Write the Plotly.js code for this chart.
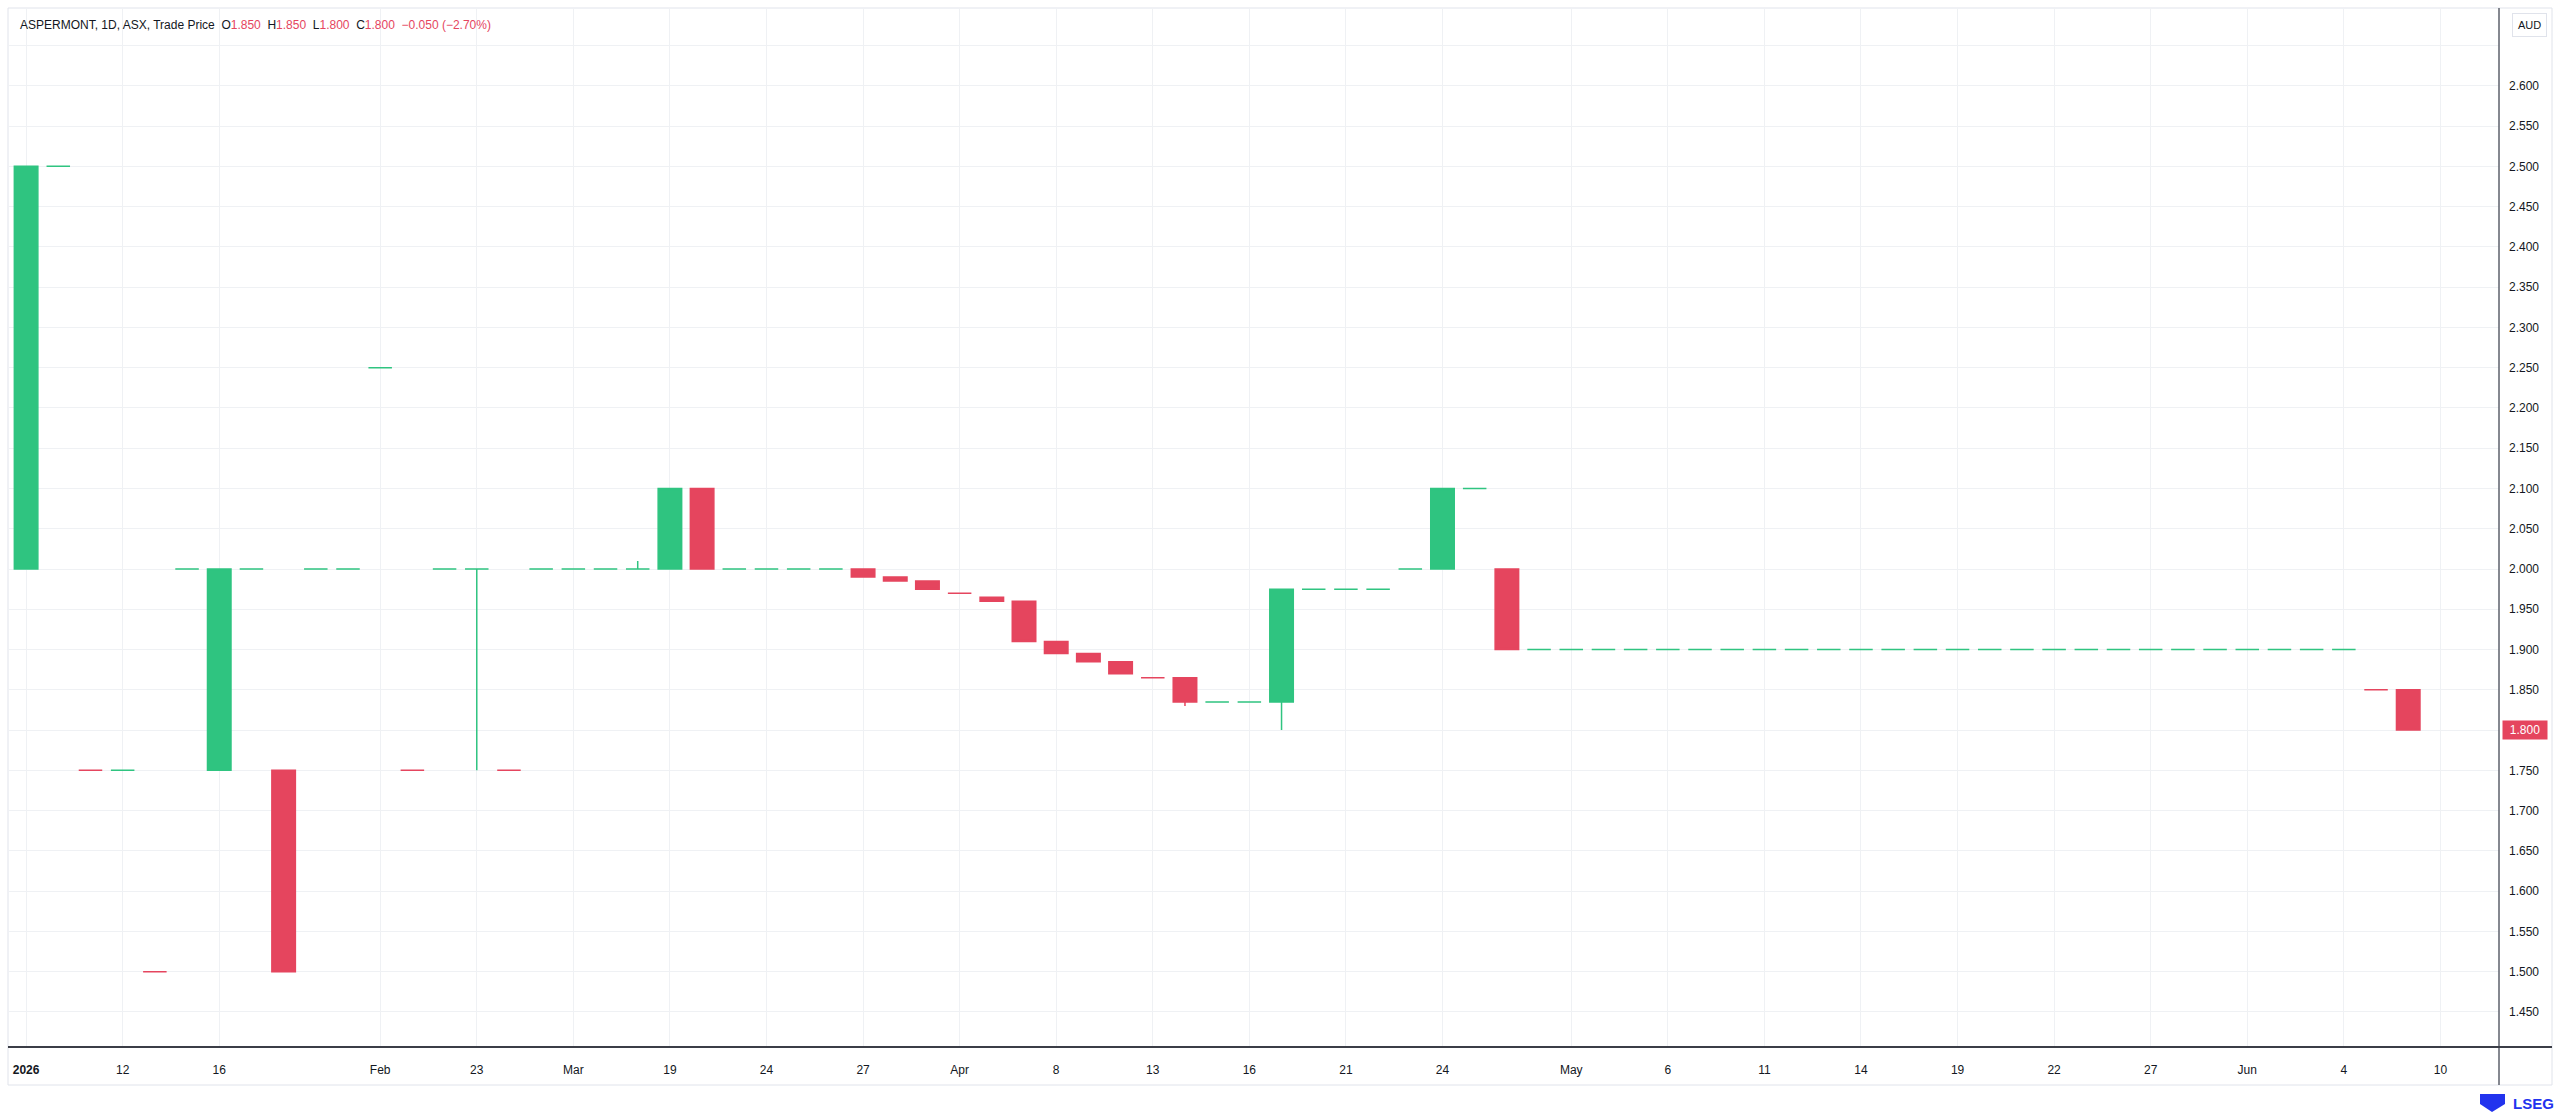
<!DOCTYPE html>
<html>
<head>
<meta charset="utf-8">
<script src="https://cdn.plot.ly/plotly-3.0.1.min.js"></script>
<style>
html,body{margin:0;padding:0;background:#ffffff;overflow:hidden}
#chart{width:2560px;height:1115px}
</style>
</head>
<body>
<div id="chart"></div>
<script>
// ---- data (ASPERMONT, 1D, ASX) : one entry per traded day ----
const openP = [2.0, 2.5, 1.75, 1.75, 1.5, 2.0, 1.75, 2.0, 1.75, 2.0,
  2.0, 2.25, 1.75, 2.0, 2.0, 1.75, 2.0, 2.0, 2.0, 2.0,
  2.0, 2.1, 2.0, 2.0, 2.0, 2.0, 2.0, 1.99, 1.985, 1.97,
  1.965, 1.96, 1.91, 1.895, 1.885, 1.865, 1.865, 1.835, 1.835, 1.835,
  1.975, 1.975, 1.975, 2.0, 2.0, 2.1, 2.0, 1.9, 1.9, 1.9,
  1.9, 1.9, 1.9, 1.9, 1.9, 1.9, 1.9, 1.9, 1.9, 1.9,
  1.9, 1.9, 1.9, 1.9, 1.9, 1.9, 1.9, 1.9, 1.9, 1.9,
  1.9, 1.9, 1.9, 1.85, 1.85];
const highP = [2.5, 2.5, 1.75, 1.75, 1.5, 2.0, 2.0, 2.0, 1.75, 2.0,
  2.0, 2.25, 1.75, 2.0, 2.0, 1.75, 2.0, 2.0, 2.0, 2.01,
  2.1, 2.1, 2.0, 2.0, 2.0, 2.0, 2.0, 1.99, 1.985, 1.97,
  1.965, 1.96, 1.91, 1.895, 1.885, 1.865, 1.865, 1.835, 1.835, 1.975,
  1.975, 1.975, 1.975, 2.0, 2.1, 2.1, 2.0, 1.9, 1.9, 1.9,
  1.9, 1.9, 1.9, 1.9, 1.9, 1.9, 1.9, 1.9, 1.9, 1.9,
  1.9, 1.9, 1.9, 1.9, 1.9, 1.9, 1.9, 1.9, 1.9, 1.9,
  1.9, 1.9, 1.9, 1.85, 1.85];
const lowP = [2.0, 2.5, 1.75, 1.75, 1.5, 2.0, 1.75, 2.0, 1.5, 2.0,
  2.0, 2.25, 1.75, 2.0, 1.75, 1.75, 2.0, 2.0, 2.0, 2.0,
  2.0, 2.0, 2.0, 2.0, 2.0, 2.0, 1.99, 1.985, 1.975, 1.97,
  1.96, 1.91, 1.895, 1.885, 1.87, 1.865, 1.83, 1.835, 1.835, 1.80,
  1.975, 1.975, 1.975, 2.0, 2.0, 2.1, 1.9, 1.9, 1.9, 1.9,
  1.9, 1.9, 1.9, 1.9, 1.9, 1.9, 1.9, 1.9, 1.9, 1.9,
  1.9, 1.9, 1.9, 1.9, 1.9, 1.9, 1.9, 1.9, 1.9, 1.9,
  1.9, 1.9, 1.9, 1.85, 1.80];
const closeP = [2.5, 2.5, 1.75, 1.75, 1.5, 2.0, 2.0, 2.0, 1.5, 2.0,
  2.0, 2.25, 1.75, 2.0, 2.0, 1.75, 2.0, 2.0, 2.0, 2.0,
  2.1, 2.0, 2.0, 2.0, 2.0, 2.0, 1.99, 1.985, 1.975, 1.97,
  1.96, 1.91, 1.895, 1.885, 1.87, 1.865, 1.835, 1.835, 1.835, 1.975,
  1.975, 1.975, 1.975, 2.0, 2.1, 2.1, 1.9, 1.9, 1.9, 1.9,
  1.9, 1.9, 1.9, 1.9, 1.9, 1.9, 1.9, 1.9, 1.9, 1.9,
  1.9, 1.9, 1.9, 1.9, 1.9, 1.9, 1.9, 1.9, 1.9, 1.9,
  1.9, 1.9, 1.9, 1.85, 1.80];

// time-scale labels (bar slot where each label sits) and their texts
const xTickPos = [0, 3, 6, 11, 14, 17, 20, 23, 26, 29, 32, 35, 38, 41, 44, 48, 51, 54, 57, 60, 63, 66, 69, 72, 75];
const xTickLabels = ['<b>2026</b>', '12', '16', 'Feb', '23', 'Mar', '19', '24', '27', 'Apr', '8', '13', '16',
  '21', '24', 'May', '6', '11', '14', '19', '22', '27', 'Jun', '4', '10'];

// price-scale labels
const yTickVals = [1.45, 1.50, 1.55, 1.60, 1.65, 1.70, 1.75, 1.80, 1.85, 1.90, 1.95, 2.00,
  2.05, 2.10, 2.15, 2.20, 2.25, 2.30, 2.35, 2.40, 2.45, 2.50, 2.55, 2.60];
const yTickLabels = ['1.450', '1.500', '1.550', '1.600', '1.650', '1.700', '1.750', '1.800', '1.850', '1.900',
  '1.950', '2.000', '2.050', '2.100', '2.150', '2.200', '2.250', '2.300', '2.350', '2.400', '2.450', '2.500',
  '2.550', '2.600'];

// ---- styling ----
const UP = '#2fc480';
const DOWN = '#e5455e';
const GRID = '#eff1f4';
const TXT = '#131722';
const FONT = 'Liberation Sans, Arial, sans-serif';

// split bars into up/down sets (flat bars coloured against previous close)
const up = {x: [], o: [], h: [], l: [], c: []};
const dn = {x: [], o: [], h: [], l: [], c: []};
for (let i = 0; i < closeP.length; i++) {
  const o = openP[i], c = closeP[i];
  const prev = i > 0 ? closeP[i - 1] : o;
  const isUp = c > o || (c === o && c >= prev);
  const t = isUp ? up : dn;
  t.x.push(i); t.o.push(o); t.h.push(highP[i]); t.l.push(lowP[i]); t.c.push(c);
}

function candle(set, col) {
  return {
    type: 'candlestick',
    x: set.x, open: set.o, high: set.h, low: set.l, close: set.c,
    line: {width: 1.5},
    increasing: {line: {color: col, width: 1.5}, fillcolor: col},
    decreasing: {line: {color: col, width: 1.5}, fillcolor: col},
    whiskerwidth: 0,
    hoverinfo: 'skip',
    showlegend: false
  };
}

// pixel helpers for layout decorations
const PL = 9, PR = 2499, PT = 8, PB = 1047;
const PX = px => (px - PL) / (PR - PL);
const PY = py => (PB - py) / (PB - PT);

const last = closeP.length - 1;
const f3 = v => v.toFixed(3);
const chg = closeP[last] - closeP[last - 1];
const pct = chg / closeP[last - 1] * 100;
const sgn = chg < 0 ? '\u2212' : '+';
const red = s => '<span style="color:' + (chg < 0 ? DOWN : UP) + '">' + s + '</span>';
const sp = '\u00a0\u00a0';
const header = 'ASPERMONT, 1D, ASX, Trade Price' + sp +
  'O' + red(f3(openP[last])) + sp +
  'H' + red(f3(highP[last])) + sp +
  'L' + red(f3(lowP[last])) + sp +
  'C' + red(f3(closeP[last])) + sp +
  red(sgn + f3(Math.abs(chg)) + ' (' + sgn + Math.abs(pct).toFixed(2) + '%)');

const layout = {
  width: 2560, height: 1115, autosize: false,
  paper_bgcolor: '#ffffff', plot_bgcolor: '#ffffff',
  font: {family: FONT, size: 12, color: TXT},
  margin: {l: PL, r: 2560 - PR, t: PT, b: 1115 - PB, pad: 0},
  showlegend: false,
  boxmode: 'overlay', boxgap: 0.27, boxgroupgap: 0,
  xaxis: {
    type: 'linear',
    range: [-0.531, 76.82],
    rangeslider: {visible: false},
    tickmode: 'array', tickvals: xTickPos, ticktext: xTickLabels,
    showgrid: true, gridcolor: GRID, gridwidth: 1,
    zeroline: false, showline: false, ticks: '',
    tickfont: {family: FONT, size: 12, color: TXT},
    ticklabelstandoff: 14,
    fixedrange: true
  },
  yaxis: {
    side: 'right',
    range: [1.4065, 2.6966],
    tickmode: 'array', tickvals: yTickVals, ticktext: yTickLabels,
    showgrid: true, gridcolor: GRID, gridwidth: 1,
    minor: {dtick: 0.05, tick0: 1.4, showgrid: true, gridcolor: GRID, ticks: ''},
    zeroline: false, showline: false, ticks: '',
    tickfont: {family: FONT, size: 12, color: TXT},
    ticklabelstandoff: 9,
    fixedrange: true
  },
  shapes: [
    // outer widget frame
    {type: 'rect', xref: 'paper', yref: 'paper', x0: PX(8), x1: PX(2552), y0: PY(1085), y1: PY(8),
      line: {color: '#e0e3eb', width: 1}, fillcolor: 'rgba(0,0,0,0)', layer: 'below'},
    // price-scale separator
    {type: 'line', xref: 'paper', yref: 'paper', x0: 1, x1: 1, y0: PY(1085), y1: PY(8),
      line: {color: '#5d606b', width: 1.5}},
    // time-scale separator
    {type: 'line', xref: 'paper', yref: 'paper', x0: PX(8), x1: PX(2552), y0: 0, y1: 0,
      line: {color: '#3b3e47', width: 2}},
    // LSEG mark
    {type: 'path', xref: 'paper', yref: 'paper',
      path: 'M ' + PX(2480) + ' ' + PY(1094) + ' L ' + PX(2505) + ' ' + PY(1094) + ' L ' + PX(2505) + ' ' + PY(1104) +
        ' L ' + PX(2492) + ' ' + PY(1112) + ' L ' + PX(2480) + ' ' + PY(1104) + ' Z',
      fillcolor: '#2233ee', line: {width: 0}}
  ],
  annotations: [
    {xref: 'paper', yref: 'paper', x: PX(18), y: PY(25), xanchor: 'left', yanchor: 'middle',
      text: header, showarrow: false, align: 'left', font: {family: FONT, size: 12, color: TXT}},
    {xref: 'paper', yref: 'paper', x: PX(2529), y: PY(25), xanchor: 'center', yanchor: 'middle',
      text: 'AUD', showarrow: false, font: {family: FONT, size: 11, color: TXT},
      bordercolor: '#e0e3eb', borderwidth: 1, borderpad: 5, bgcolor: '#ffffff'},
    {xref: 'paper', yref: 'y', x: PX(2502), y: closeP[last], xanchor: 'left', yanchor: 'middle',
      text: f3(closeP[last]), showarrow: false, font: {family: FONT, size: 12, color: '#ffffff'},
      bgcolor: chg < 0 ? DOWN : UP, borderpad: 2, width: 40},
    {xref: 'paper', yref: 'paper', x: PX(2556), y: PY(1103), xanchor: 'right', yanchor: 'middle',
      text: '<b>LSEG</b>', showarrow: false, font: {family: FONT, size: 15, color: '#2233ee'}}
  ]
};

Plotly.newPlot('chart', [candle(up, UP), candle(dn, DOWN)], layout, {displayModeBar: false, staticPlot: true});
</script>
</body>
</html>
